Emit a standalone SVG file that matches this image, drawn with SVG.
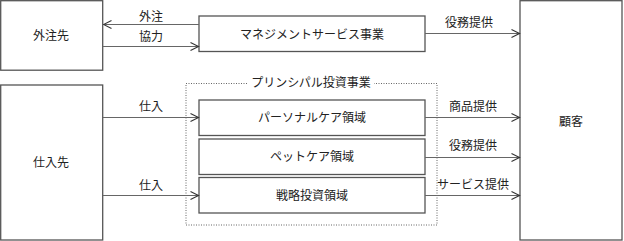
<svg xmlns="http://www.w3.org/2000/svg" width="624" height="241" viewBox="0 0 624 241">
<style>
.box{fill:#fff;stroke:#555;stroke-width:1.3}
.ln{fill:none;stroke:#666;stroke-width:1}
.dot{fill:none;stroke:#666;stroke-width:1;stroke-dasharray:1 1.5}
text{font-family:"Liberation Serif","Noto Sans CJK JP",serif;font-size:12px;fill:#222;text-anchor:middle;dominant-baseline:central}
</style>
<defs>
<marker id="ah" viewBox="0 0 10 10" refX="9" refY="5" markerWidth="10" markerHeight="10" markerUnits="userSpaceOnUse" orient="auto">
<path d="M1,1 L9,5 L1,9" fill="none" stroke="#333" stroke-width="1.1"/>
</marker>
</defs>
<g id="principal">
<rect class="dot" x="186" y="83.5" width="251" height="141.5"/>
<rect x="248" y="76" width="126" height="14" fill="#fff"/>
<text x="311" y="83">プリンシパル投資事業</text>
</g>
<g id="gaichusaki"><rect class="box" x="0.7" y="0.7" width="102" height="69.5"/><text x="51" y="36">外注先</text></g>
<g id="shiiresaki"><rect class="box" x="0.7" y="85" width="102" height="155"/><text x="51" y="163">仕入先</text></g>
<g id="kokyaku"><rect class="box" x="520" y="0.7" width="102" height="239.3"/><text x="571" y="121.5">顧客</text></g>
<g id="management"><rect class="box" x="199" y="16" width="226" height="35.5"/><text x="312" y="34.5">マネジメントサービス事業</text></g>
<g id="personal"><rect class="box" x="199" y="100" width="226" height="35.5"/><text x="312" y="118">パーソナルケア領域</text></g>
<g id="pet"><rect class="box" x="199" y="139" width="226" height="35.5"/><text x="312" y="157">ペットケア領域</text></g>
<g id="senryaku"><rect class="box" x="199" y="177.5" width="226" height="35.5"/><text x="312" y="195.5">戦略投資領域</text></g>
<g id="connectors">
<line class="ln" x1="199" y1="24.5" x2="103.5" y2="24.5" marker-end="url(#ah)"/>
<text x="151" y="17">外注</text>
<line class="ln" x1="103" y1="46.5" x2="198.5" y2="46.5" marker-end="url(#ah)"/>
<text x="151" y="37">協力</text>
<line class="ln" x1="425" y1="33.5" x2="519.5" y2="33.5" marker-end="url(#ah)"/>
<text x="469" y="23">役務提供</text>
<line class="ln" x1="103" y1="117.5" x2="198.5" y2="117.5" marker-end="url(#ah)"/>
<text x="151" y="107">仕入</text>
<line class="ln" x1="103" y1="195.5" x2="198.5" y2="195.5" marker-end="url(#ah)"/>
<text x="151" y="186">仕入</text>
<line class="ln" x1="425" y1="117.5" x2="519.5" y2="117.5" marker-end="url(#ah)"/>
<text x="473" y="107">商品提供</text>
<line class="ln" x1="425" y1="157.5" x2="519.5" y2="157.5" marker-end="url(#ah)"/>
<text x="473" y="146">役務提供</text>
<line class="ln" x1="425" y1="195.5" x2="519.5" y2="195.5" marker-end="url(#ah)"/>
<text x="473" y="185">サービス提供</text>
</g>
</svg>
